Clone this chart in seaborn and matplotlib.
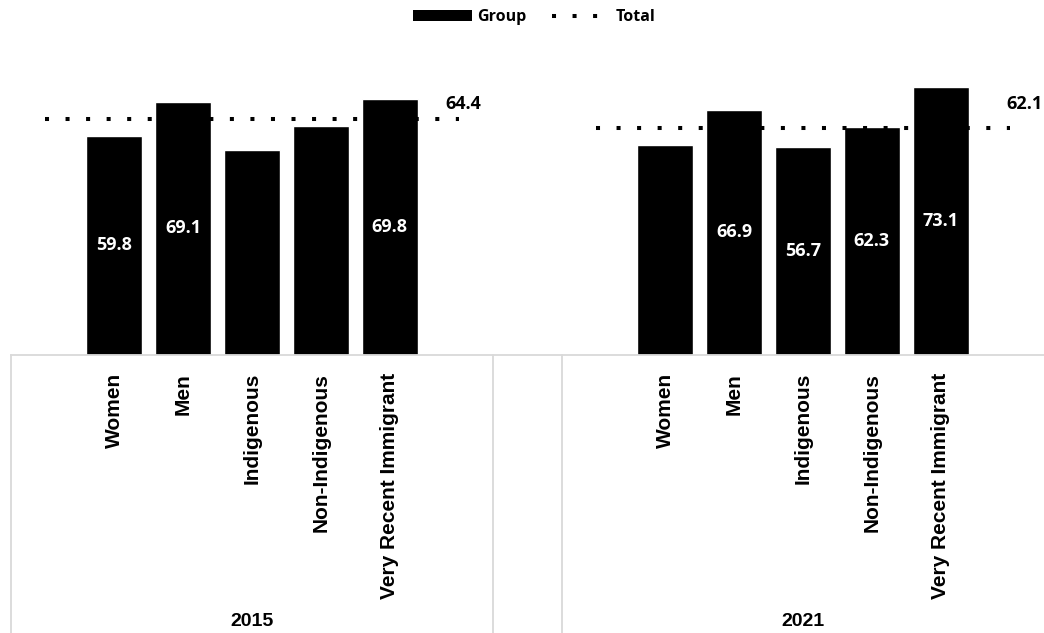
import numpy as np
import pandas as pd
import seaborn as sns
import matplotlib.pyplot as plt
from matplotlib.patches import Patch
from matplotlib.lines import Line2D

# ---- data -------------------------------------------------------------
years = ["2015", "2021"]
groups = ["Women", "Men", "Indigenous", "Non-Indigenous", "Very Recent Immigrant"]
rate_2015 = [59.8, 69.1, 56.0, 62.6, 69.8]
rate_2021 = [57.3, 66.9, 56.7, 62.3, 73.1]
total_rate = [64.4, 62.1]
show_2015 = [True, True, False, False, True]
show_2021 = [False, True, True, True, True]

# ---- category slots: one empty slot either side of each year block,
#      plus one spacer slot between the two years
block = len(groups) + 2
rows = []
for i, (yr, vals, shows) in enumerate(zip(years, [rate_2015, rate_2021], [show_2015, show_2021])):
    start = i * (block + 1)
    for j, (g, v, s) in enumerate(zip(groups, vals, shows)):
        rows.append({"year": yr, "group": g, "slot": start + 1 + j, "rate": v, "show": s})
df = pd.DataFrame(rows).sort_values("slot").reset_index(drop=True)
n_slots = len(years) * block + (len(years) - 1)

sns.set_theme(style="white")
plt.rcParams["font.family"] = ["Open Sans", "DejaVu Sans"]
plt.rcParams["text.color"] = "black"
plt.rcParams["xtick.color"] = "black"
plt.rcParams["xtick.labelcolor"] = "black"

fig = plt.figure(figsize=(10.44, 6.33), dpi=100)
ax = fig.add_axes([11 / 1044, 1 - 355 / 633, 1 - 11 / 1044, 293 / 633])

sns.barplot(data=df, x="slot", y="rate", native_scale=True, width=0.81,
            color="black", saturation=1, errorbar=None, ax=ax, zorder=2)

# value labels centred in the bars
labels = [f"{v:.1f}" if s else "" for v, s in zip(df["rate"], df["show"])]
ax.bar_label(ax.containers[0], labels=labels, label_type="center",
             color="white", fontweight="bold", fontsize=13, family="Open Sans")

# dotted total line over each year block, value shown past its right end
dots = (0, (1, 4.1))
total_offsets = [(-13, 15), (-3, 24)]
for i, (yr, tot) in enumerate(zip(years, total_rate)):
    start = i * (block + 1)
    xs = np.arange(start, start + block)
    ax.plot(xs, np.full(len(xs), tot), color="black", lw=2.9,
            linestyle=dots, dash_capstyle="butt", zorder=3)
    ax.annotate(f"{tot:.1f}", xy=(xs[-1], tot), xytext=total_offsets[i],
                textcoords="offset pixels", ha="left", va="center",
                fontsize=13, fontweight="bold", family="Open Sans",
                color="black", annotation_clip=False)

ax.set_xlim(-0.5, n_slots - 0.5)
ax.set_ylim(0, 80)
ax.set_yticks([])
ax.set_xlabel("")
ax.set_ylabel("")

ax.set_xticks(df["slot"])
ax.set_xticklabels(df["group"], rotation=90, fontsize=15, fontweight="bold",
                   family="Liberation Sans", color="black")
ax.tick_params(axis="x", length=0, pad=13)

for side in ["top", "right", "left"]:
    ax.spines[side].set_visible(False)
ax.spines["bottom"].set_color("#d9d9d9")
ax.spines["bottom"].set_linewidth(1.3)

# year block separators and year labels under the category labels
xt = ax.get_xaxis_transform()
bounds = [-0.5]
for i in range(len(years)):
    start = i * (block + 1)
    if i > 0:
        bounds.append(start - 0.5)
    bounds.append(start + block - 0.5)
for b in bounds:
    if b < n_slots - 0.5:
        ax.plot([b, b], [0, -1.2], transform=xt, clip_on=False,
                color="#d9d9d9", lw=1.3)
for i, yr in enumerate(years):
    start = i * (block + 1)
    ax.text(start + (block - 1) / 2, -0.91, yr, transform=xt, ha="center",
            va="center", fontsize=14, fontweight="bold", family="Liberation Sans",
            color="black")

# legend
handles = [Patch(facecolor="black", edgecolor="none"),
           Line2D([], [], color="black", lw=2.9, linestyle=dots,
                  dash_capstyle="butt")]
fig.legend(handles, ["Group", "Total"], loc="center", ncol=2,
           bbox_to_anchor=(0.5115, 0.973), frameon=False,
           prop={"family": "Open Sans", "weight": "bold", "size": 11.5},
           labelcolor="black",
           handlelength=3.7, handleheight=0.7, handletextpad=0.3,
           columnspacing=1.6)

fig.savefig("out.png", dpi=100)
